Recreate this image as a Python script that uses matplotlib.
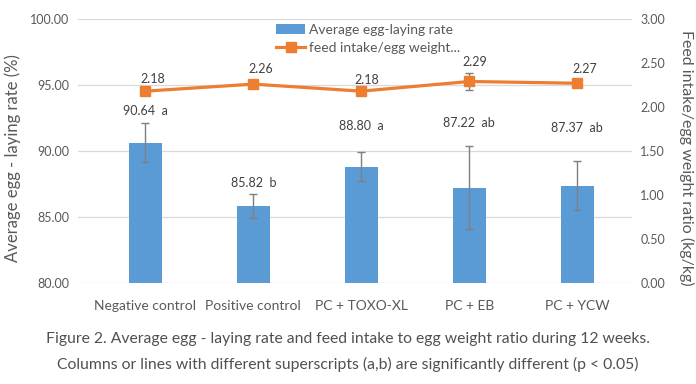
import matplotlib
matplotlib.use("Agg")
import matplotlib.pyplot as plt
import numpy as np
from matplotlib.patches import Patch
from matplotlib.lines import Line2D

categories = ["Negative control", "Positive control", "PC + TOXO-XL", "PC + EB", "PC + YCW"]
laying_rate = [90.64, 85.82, 88.80, 87.22, 87.37]
laying_err = [1.50, 0.93, 1.10, 3.15, 1.85]
letters = ["a", "b", "a", "ab", "ab"]
feed_ratio = [2.18, 2.26, 2.18, 2.29, 2.27]
feed_err = [0.01, 0.01, 0.01, 0.095, 0.01]
left_ticks = [80, 85, 90, 95, 100]
right_ticks = [0.0, 0.5, 1.0, 1.5, 2.0, 2.5, 3.0]

# label offsets (pixels) - layout only
bar_label_dy = [32, 23, 41, 65, 58]
line_label_dx = [8, 8, 6, 6, 8]
line_label_dy = [12, 15, 11, 19, 14]

plt.rcParams['font.family'] = ['Lato', 'DejaVu Sans']
TXT = '#595959'
BLUE = '#5B9BD5'
ORANGE = '#ED7D31'

W, H = 696, 384
fig = plt.figure(figsize=(W / 100, H / 100), dpi=100)
ax = fig.add_axes([78 / W, 1 - 283 / H, (632 - 78) / W, (283 - 19) / H])
ax2 = ax.twinx()

x = np.arange(len(categories))
ax.bar(x, laying_rate, width=0.31, color=BLUE, zorder=2)
ax.errorbar(x, laying_rate, yerr=laying_err, fmt='none', ecolor='#7F7F7F',
            elinewidth=1, capsize=3, capthick=1, zorder=3)
ax.set_ylim(80, 100)
ax.set_yticks(left_ticks)
ax.set_yticklabels([f"{v:.2f}" for v in left_ticks])
ax.set_xlim(-0.623, 4.507)
ax.set_xticks(x)
ax.set_xticklabels(categories)
ax.grid(axis='y', color='#D9D9D9', linewidth=0.9, zorder=0)
ax.set_axisbelow(True)
for s in ax.spines.values():
    s.set_visible(False)
for s in ax2.spines.values():
    s.set_visible(False)
ax.tick_params(axis='y', length=0, labelsize=9, colors=TXT, pad=6)
ax.tick_params(axis='x', length=0, labelsize=10, colors=TXT, pad=12)
ax.set_ylabel("Average egg - laying rate (%)", fontsize=12, color=TXT, va='center')
ax.yaxis.set_label_coords(-0.117, 0.473)

for xi, v, l, dy in zip(x, laying_rate, letters, bar_label_dy):
    ax.annotate(f"{v:.2f}  {l}", (xi, v), xytext=(0, dy), textcoords='offset pixels',
                ha='center', va='center', fontsize=9, color='#404040')

ax2.errorbar(x, feed_ratio, yerr=feed_err, fmt='none', ecolor='#7F7F7F',
             elinewidth=1, capsize=3, capthick=1, zorder=3)
ax2.plot(x, feed_ratio, color=ORANGE, linewidth=2.3, marker='s', markersize=7,
         markerfacecolor=ORANGE, markeredgecolor=ORANGE, zorder=4)
ax2.set_ylim(0, 3)
ax2.set_yticks(right_ticks)
ax2.set_yticklabels([f"{v:.2f}" for v in right_ticks])
ax2.tick_params(axis='y', length=0, labelsize=9, colors=TXT, pad=6)
ax2.set_ylabel("Feed intake/egg weight ratio (kg/kg)", fontsize=11.5, color=TXT,
               rotation=-90, va='center')
ax2.yaxis.set_label_coords(1.099, 0.473)
for xi, v, dx, dy in zip(x, feed_ratio, line_label_dx, line_label_dy):
    ax2.annotate(f"{v:.2f}", (xi, v), xytext=(dx, dy), textcoords='offset pixels',
                 ha='center', va='center', fontsize=9, color='#404040')

handles = [Patch(facecolor=BLUE, edgecolor='none'),
           Line2D([0], [0], color=ORANGE, linewidth=2.3, marker='s', markersize=7)]
leg = fig.legend(handles, ["Average egg-laying rate", "feed intake/egg weight..."],
                 loc='upper left', bbox_to_anchor=(276 / W, 1 - 24 / H), frameon=False,
                 fontsize=10, handlelength=2.1, handletextpad=0.25, labelspacing=0.45,
                 borderpad=0, borderaxespad=0)
for t in leg.get_texts():
    t.set_color(TXT)

fig.text(0.5, 1 - 339 / H,
         "Figure 2. Average egg - laying rate and feed intake to egg weight ratio during 12 weeks.",
         ha='center', va='center', fontsize=11.3, color='#505050')
fig.text(0.5, 1 - 364 / H,
         "Columns or lines with different superscripts (a,b) are significantly different (p < 0.05)",
         ha='center', va='center', fontsize=11.3, color='#505050')

fig.savefig("out.png", dpi=100, facecolor='white')
